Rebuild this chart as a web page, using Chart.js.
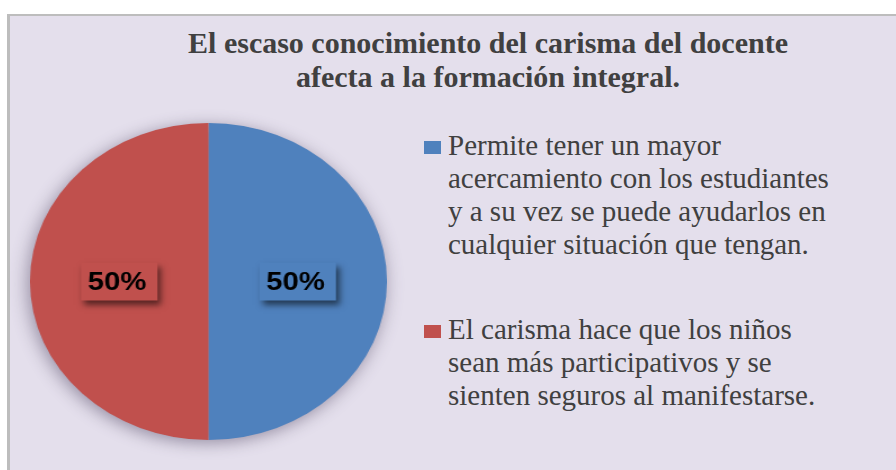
<!DOCTYPE html>
<html>
<head>
<meta charset="utf-8">
<script src="https://cdn.jsdelivr.net/npm/chart.js@4"></script>
<style>
  body { margin: 0; width: 896px; height: 470px; overflow: hidden; background: #fff; position: relative; }
  #frame { position: absolute; left: 7px; top: 14px; width: 900px; height: 470px;
           background: #E4DFEC; border-left: 3px solid #BDBDBD; border-top: 2px solid #BDBDBD; }
  #title { position: absolute; left: 138px; width: 700px; top: 26px; text-align: center;
           font-weight: bold; font-size: 30px; line-height: 34px; color: #404040; white-space: nowrap; }
  #pie { position: absolute; left: 30px; top: 123px; transform: scaleX(1.126); transform-origin: 0 0;
         filter: drop-shadow(-2px 3px 8px rgba(50,40,70,0.45)); }
  #legend { position: absolute; left: 424px; top: 129px; }
  .item { position: relative; margin-bottom: 52px; }
  .box { position: absolute; left: 0; top: 12px; width: 17px; height: 13px; }
  .txt { margin-left: 24px; font-size: 29px; line-height: 33px; color: #404040; white-space: nowrap; }
</style>
</head>
<body>
<div id="frame"></div>
<div id="title" style="font-family:'Liberation Serif'"></div>
<canvas id="pie" width="317" height="317"></canvas>
<div id="legend"></div>
<script>
// chart title, two lines
var titleLines = ['El escaso conocimiento del carisma del docente', 'afecta a la formación integral.'];
// categories (each one already split in lines like the original legend)
var labelLines = [
  ['Permite tener un mayor', 'acercamiento con los estudiantes', 'y a su vez se puede ayudarlos en', 'cualquier situación que tengan.'],
  ['El carisma hace que los niños', 'sean más participativos y se', 'sienten seguros al manifestarse.']
];
var values = [50, 50];
var colors = ['#4F81BD', '#C0504D'];

document.getElementById('title').innerHTML = titleLines.join('<br>');

var legend = document.getElementById('legend');
for (var i in labelLines) {
  var item = document.createElement('div');
  item.className = 'item';
  item.innerHTML = '<div class="box" style="background:' + colors[i] + '"></div>' +
                   '<div class="txt" style="font-family:\'Liberation Serif\'">' + labelLines[i].join('<br>') + '</div>';
  legend.appendChild(item);
}

// percentage boxes on the slices
var pctLabels = {
  id: 'pctLabels',
  afterDatasetsDraw: function(chart) {
    var ctx = chart.ctx;
    var data = chart.data.datasets[0].data;
    var total = data.reduce(function(a, b) { return a + b; }, 0);
    chart.getDatasetMeta(0).data.forEach(function(arc, i) {
      var p = arc.tooltipPosition();
      ctx.save();
      ctx.shadowColor = 'rgba(0,0,0,0.55)';
      ctx.shadowBlur = 6;
      ctx.shadowOffsetX = 3;
      ctx.shadowOffsetY = 4;
      ctx.fillStyle = colors[i];
      ctx.fillRect(p.x - 34, p.y - 19, 68, 38);
      ctx.restore();
      ctx.fillStyle = '#000';
      ctx.font = 'bold 26px "Liberation Sans", Arial, sans-serif';
      ctx.textAlign = 'center';
      ctx.textBaseline = 'middle';
      ctx.fillText(Math.round(data[i] / total * 100) + '%', p.x - 2, p.y + 1);
    });
  }
};

new Chart(document.getElementById('pie'), {
  type: 'pie',
  data: {
    labels: labelLines.map(function(l) { return l.join(' '); }),
    datasets: [{ data: values, backgroundColor: colors, borderWidth: 0, hoverOffset: 0 }]
  },
  options: {
    responsive: false,
    animation: false,
    layout: { padding: 0 },
    plugins: { legend: { display: false }, tooltip: { enabled: false }, title: { display: false } }
  },
  plugins: [pctLabels]
});
</script>
</body>
</html>
